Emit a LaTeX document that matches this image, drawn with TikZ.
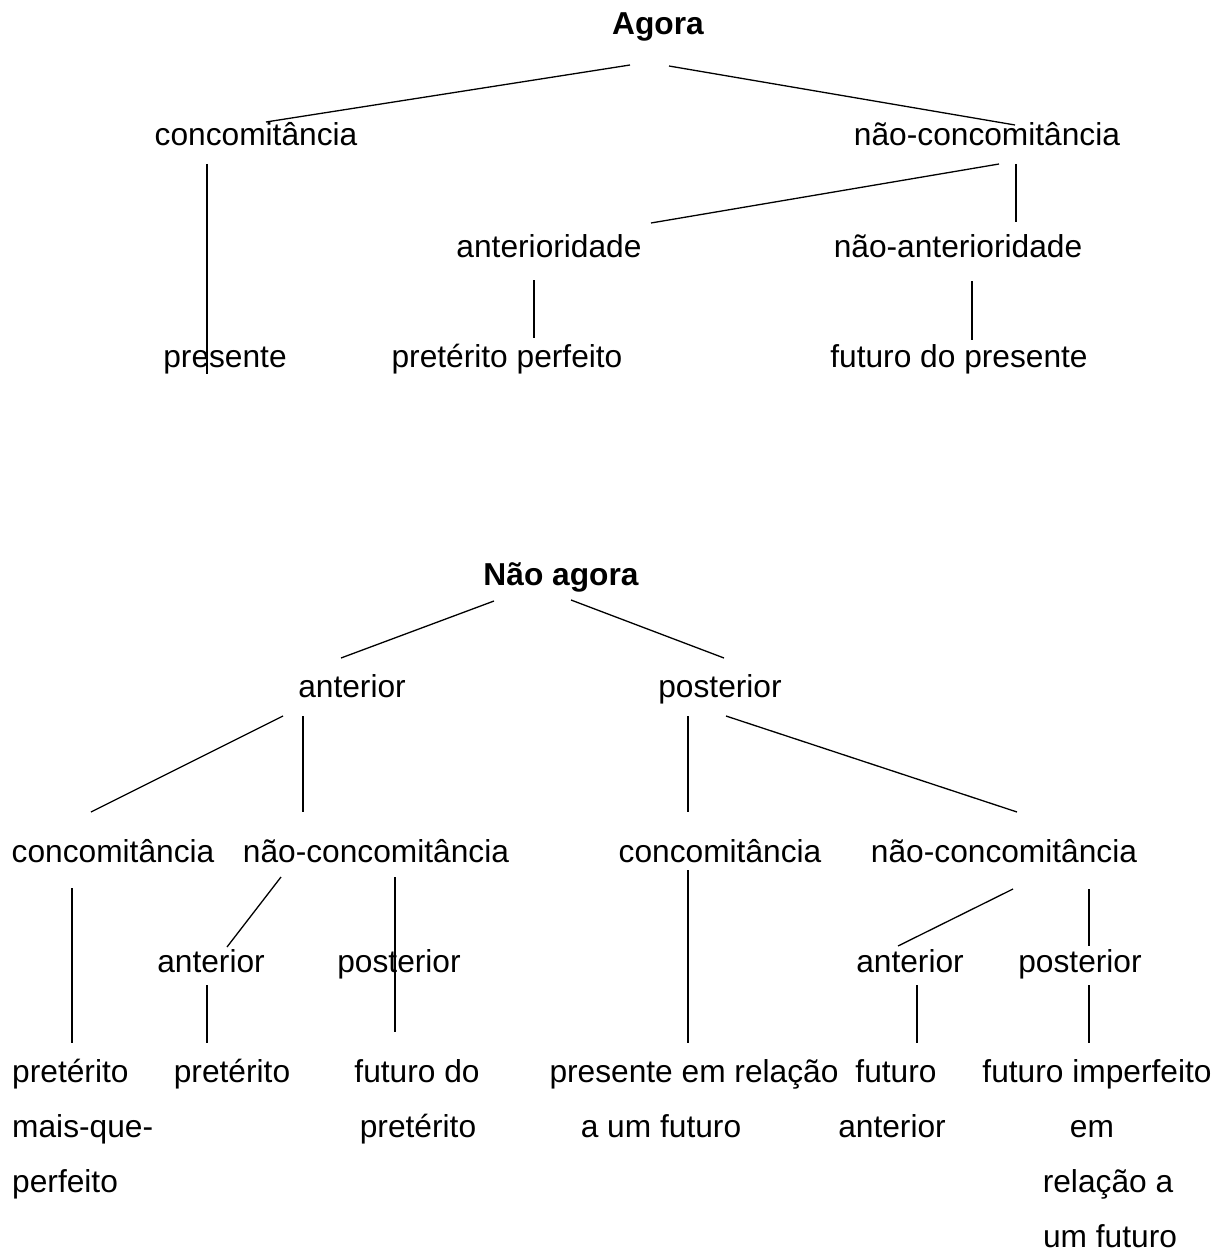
\documentclass[tikz,border=0pt]{standalone}
\usepackage{fontspec}
\setmainfont{Liberation Sans}
\begin{document}
\begin{tikzpicture}[x=1pt,y=-1pt,
  every node/.style={font=\fontsize{31.7pt}{38pt}\selectfont, inner sep=0pt, anchor=base},
  ttl/.style={font=\fontsize{31.7pt}{38pt}\selectfont\bfseries},
  lft/.style={anchor=base west},
  ln/.style={line width=1.3pt, black}]
\useasboundingbox[fill=white] (0,0) rectangle (1226,1252);

% ---------- Top tree ----------
\node[ttl] (agora) at (658,35) {Agora};
\node (conc1) at (256,146) {concomitância};
\node (nconc1) at (987,146) {não-concomitância};
\node (anteridade) at (549,257) {anterioridade};
\node (nanteridade) at (958,257) {não-anterioridade};
\node (presente) at (225,367) {presente};
\node (pperf) at (507,367) {pretérito perfeito};
\node (fpres) at (959,367) {futuro do presente};

\coordinate (t1a) at (630,65);  \coordinate (t1b) at (266,122);
\coordinate (t2a) at (669,66);  \coordinate (t2b) at (1015,125);
\coordinate (t3a) at (207,164); \coordinate (t3b) at (207,374);
\coordinate (t4a) at (999,164); \coordinate (t4b) at (651,223);
\coordinate (t5a) at (1016,164);\coordinate (t5b) at (1016,222);
\coordinate (t6a) at (534,280); \coordinate (t6b) at (534,338);
\coordinate (t7a) at (972,281); \coordinate (t7b) at (972,340);
\foreach \i in {1,...,7} {\draw[ln] (t\i a) -- (t\i b);}

% ---------- Bottom tree ----------
\node[ttl] (nagora) at (561,585) {Não agora};
\node (ant) at (352,697) {anterior};
\node (post) at (720,697) {posterior};
\node (conc2) at (113,862) {concomitância};
\node (nconc2) at (376,862) {não-concomitância};
\node (conc3) at (720,862) {concomitância};
\node (nconc3) at (1004,862) {não-concomitância};
\node (ant2) at (211,972) {anterior};
\node (post2) at (399,972) {posterior};
\node (ant3) at (910,972) {anterior};
\node (post3) at (1080,972) {posterior};

\node[lft] (pmqp1) at (12,1082) {pretérito};
\node[lft] (pmqp2) at (12,1137) {mais-que-};
\node[lft] (pmqp3) at (12,1192) {perfeito};
\node (pret) at (232,1082) {pretérito};
\node (fdp1) at (417,1082) {futuro do};
\node (fdp2) at (418,1137) {pretérito};
\node (prf1) at (694,1082) {presente em relação};
\node (prf2) at (661,1137) {a um futuro};
\node (fant1) at (896,1082) {futuro};
\node (fant2) at (892,1137) {anterior};
\node (fimp1) at (1097,1082) {futuro imperfeito};
\node (fimp2) at (1092,1137) {em};
\node (fimp3) at (1108,1192) {relação a};
\node (fimp4) at (1110,1247) {um futuro};

\coordinate (b1a) at (494,601);  \coordinate (b1b) at (341,658);
\coordinate (b2a) at (571,600);  \coordinate (b2b) at (724,658);
\coordinate (b3a) at (283,716);  \coordinate (b3b) at (91,812);
\coordinate (b4a) at (303,716);  \coordinate (b4b) at (303,812);
\coordinate (b5a) at (688,716);  \coordinate (b5b) at (688,812);
\coordinate (b6a) at (726,716);  \coordinate (b6b) at (1017,812);
\coordinate (b7a) at (72,888);   \coordinate (b7b) at (72,1043);
\coordinate (b8a) at (281,877);  \coordinate (b8b) at (227,947);
\coordinate (b9a) at (395,877);  \coordinate (b9b) at (395,1032);
\coordinate (b10a) at (688,870); \coordinate (b10b) at (688,1043);
\coordinate (b11a) at (1013,889);\coordinate (b11b) at (898,946);
\coordinate (b12a) at (1089,889);\coordinate (b12b) at (1089,946);
\coordinate (b13a) at (207,985); \coordinate (b13b) at (207,1043);
\coordinate (b14a) at (917,985); \coordinate (b14b) at (917,1043);
\coordinate (b15a) at (1089,985);\coordinate (b15b) at (1089,1043);
\foreach \i in {1,...,15} {\draw[ln] (b\i a) -- (b\i b);}
\end{tikzpicture}
\end{document}
